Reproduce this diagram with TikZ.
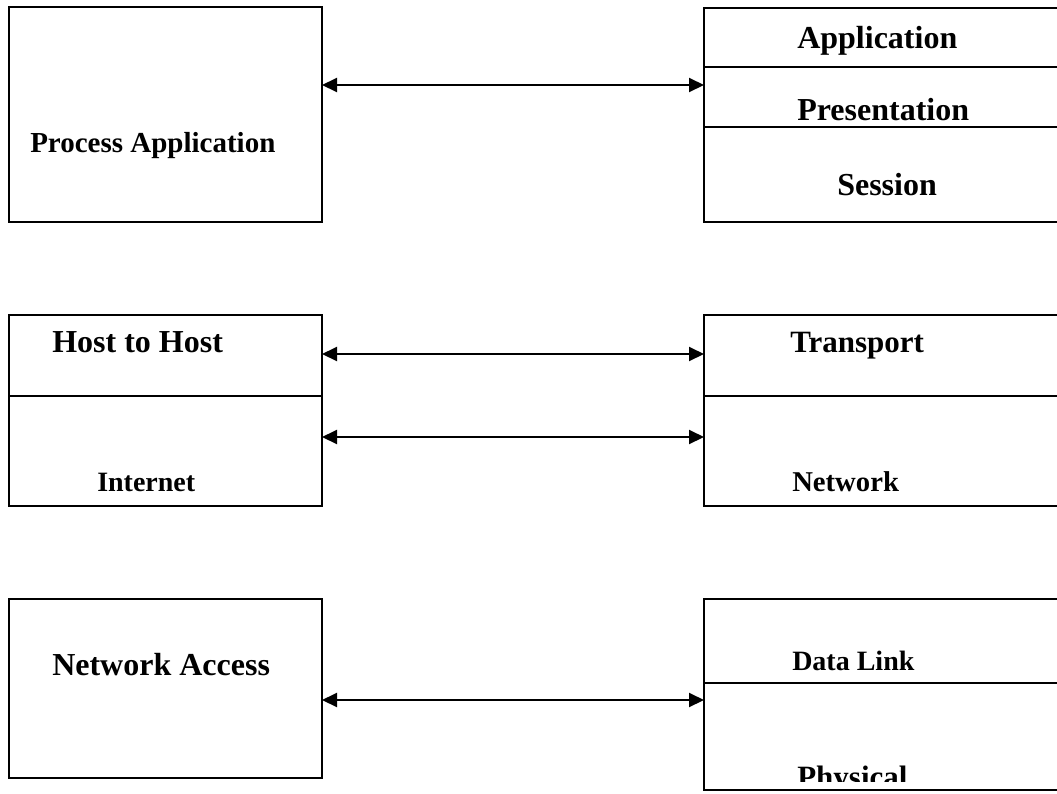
\documentclass[tikz,border=0pt]{standalone}
\usepackage{fontspec}
\setmainfont{Liberation Serif}
\usetikzlibrary{arrows.meta}

\tikzset{
  layer/.style={draw=black, line width=1.5pt, fill=none, inner sep=0pt, outer sep=0pt, anchor=north west},
  label text/.style={anchor=base west, inner sep=0pt},
  tip/.tip={Triangle[length=11.25pt,width=10.5pt]},
  link/.style={line width=1.5pt, tip-tip},
}
\newcommand{\px}[1]{\fontsize{#1}{#1}\selectfont}

\begin{document}
\begin{tikzpicture}[x=0.75pt, y=-0.75pt]
  \useasboundingbox (0,0) rectangle (1057,793);
  \clip (0,0) rectangle (1057,793);

  % ---- TCP/IP side (left) ----
  \node[layer, minimum width=313*0.75pt, minimum height=215*0.75pt] (pa) at (9,7) {};
  \node[layer, minimum width=313*0.75pt, minimum height=81*0.75pt] (hh) at (9,315) {};
  \node[layer, minimum width=313*0.75pt, minimum height=110*0.75pt] (inet) at (9,396) {};
  \node[layer, minimum width=313*0.75pt, minimum height=179*0.75pt] (na) at (9,599) {};

  % ---- OSI side (right), running off the page edge ----
  \node[layer, minimum width=380*0.75pt, minimum height=59*0.75pt] (app) at (704,8) {};
  \node[layer, minimum width=380*0.75pt, minimum height=60*0.75pt] (pres) at (704,67) {};
  \node[layer, minimum width=380*0.75pt, minimum height=95*0.75pt] (sess) at (704,127) {};
  \node[layer, minimum width=380*0.75pt, minimum height=81*0.75pt] (tr) at (704,315) {};
  \node[layer, minimum width=380*0.75pt, minimum height=110*0.75pt] (nw) at (704,396) {};
  \node[layer, minimum width=380*0.75pt, minimum height=84*0.75pt] (dl) at (704,599) {};
  \node[layer, minimum width=380*0.75pt, minimum height=107*0.75pt] (ph) at (704,683) {};

  % ---- labels ----
  \node[label text, font=\bfseries\px{21.75pt}] (paT) at (30,152) {Process Application};
  \node[label text, font=\bfseries\px{24pt}] (hhT) at (52,352) {Host to Host};
  \node[label text, font=\bfseries\px{21pt}] (inetT) at (97,491) {Internet};
  \node[label text, font=\bfseries\px{24pt}] (naT) at (52,675) {Network Access};

  \node[label text, font=\bfseries\px{24pt}] (appT) at (797,48) {Application};
  \node[label text, font=\bfseries\px{24pt}] (presT) at (797,120) {Presentation};
  \node[label text, font=\bfseries\px{24pt}] (sessT) at (837,195) {Session};
  \node[label text, font=\bfseries\px{23.25pt}] (trT) at (790,352) {Transport};
  \node[label text, font=\bfseries\px{21.5pt}] (nwT) at (792,491) {Network};
  \node[label text, font=\bfseries\px{21pt}] (dlT) at (792,670) {Data Link};
  \begin{scope}
    \clip (704,683) rectangle (1057,781);
    \node[label text, font=\bfseries\px{23.25pt}] (phT) at (797,787) {Physical};
  \end{scope}

  % ---- peer connectors ----
  \coordinate (r1) at (0,85);
  \coordinate (r2) at (0,354);
  \coordinate (r3) at (0,437);
  \coordinate (r4) at (0,700);
  \draw[link] (pa.east |- r1) -- (pres.west |- r1);
  \draw[link] (hh.east |- r2) -- (tr.west |- r2);
  \draw[link] (inet.east |- r3) -- (nw.west |- r3);
  \draw[link] (na.east |- r4) -- (ph.west |- r4);
\end{tikzpicture}
\end{document}
